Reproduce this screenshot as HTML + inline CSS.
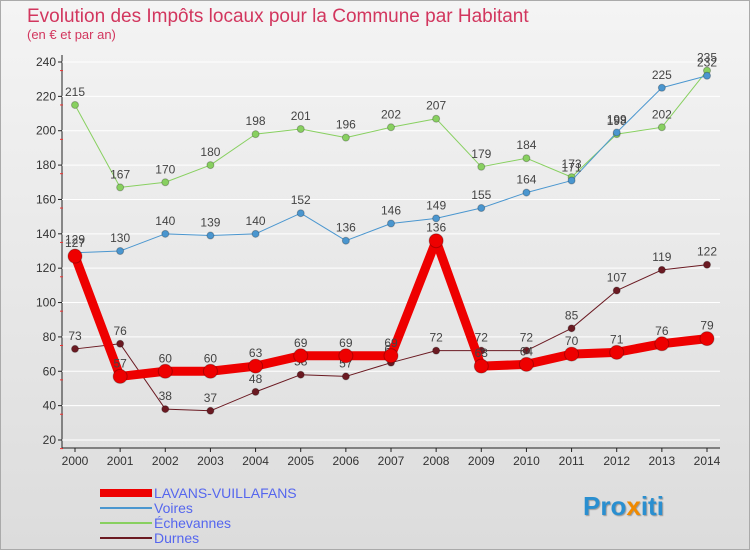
<!DOCTYPE html>
<html><head><meta charset="utf-8"><style>
body{margin:0;background:#fff}
svg{font-family:"Liberation Sans",sans-serif}
</style></head><body>
<svg id="c" width="750" height="550">
<defs><linearGradient id="bg" x1="0" y1="0" x2="0" y2="1"><stop offset="0" stop-color="#f4f4f4"/><stop offset="1" stop-color="#dcdcdc"/></linearGradient></defs>
<rect x="0.5" y="0.5" width="749" height="549" fill="url(#bg)" stroke="#aaa"/>
<text x="27" y="22" font-size="19" fill="#d2365e">Evolution des Impôts locaux pour la Commune par Habitant</text>
<text x="27" y="39" font-size="13" fill="#d2365e">(en € et par an)</text>
<g id="axes"></g><g id="series"></g><g id="legend"></g>
<text x="583" y="515" font-size="26" font-weight="bold" fill="#2a8fd0" style="text-shadow:1px 1px 1px #999">Pro<tspan fill="#f08a00">x</tspan>iti</text>
</svg>
<script>
const years=[2000,2001,2002,2003,2004,2005,2006,2007,2008,2009,2010,2011,2012,2013,2014];
const yTicks=[20,40,60,80,100,120,140,160,180,200,220,240];
const lavans=[127,57,60,60,63,69,69,69,136,63,64,70,71,76,79];
const voires=[129,130,140,139,140,152,136,146,149,155,164,171,199,225,232];
const eche=[215,167,170,180,198,201,196,202,207,179,184,173,198,202,235];
const durnes=[73,76,38,37,48,58,57,65,72,72,72,85,107,119,122];
const NS='http://www.w3.org/2000/svg';
const X=i=>75+i*(707-75)/(years.length-1);
const Y=v=>440-(v-20)*(378/220);
function mk(t,a,p){const e=document.createElementNS(NS,t);for(const k in a)e.setAttribute(k,a[k]);p.appendChild(e);return e;}
const ax=document.getElementById('axes');
mk('line',{x1:62,y1:55,x2:62,y2:448,stroke:'#222'},ax);
mk('line',{x1:62,y1:448,x2:720,y2:448,stroke:'#222'},ax);
yTicks.forEach(v=>{
  const y=Y(v);
  const l=mk('line',{x1:62,y1:y,x2:720,y2:y,stroke:'#fff','stroke-width':1},ax);
  
  
  mk('line',{x1:58,y1:y,x2:62,y2:y,stroke:'#222'},ax);
  mk('line',{x1:60,y1:y+8.6,x2:63,y2:y+8.6,stroke:'#e33'},ax);
  const t=mk('text',{x:56,y:y+4,'font-size':12,fill:'#333','text-anchor':'end'},ax);
  t.textContent=v;
  
  
});
years.forEach((yr,i)=>{
  const x=X(i);
  mk('line',{x1:x,y1:448,x2:x,y2:452,stroke:'#222'},ax);
  const t=mk('text',{x:x,y:465,'font-size':12,fill:'#333','text-anchor':'middle'},ax);
  t.textContent=yr;
  
  
});
const sg=document.getElementById('series');
function series(vals,color,w,r,name){
  const g=mk('g',{},sg);
  
  
  mk('polyline',{points:vals.map((v,i)=>X(i)+','+Y(v)).join(' '),fill:'none',stroke:color,'stroke-width':w,'stroke-linejoin':'round'},g);
  vals.forEach((v,i)=>{
    const c=mk('circle',{cx:X(i),cy:Y(v),r:r,fill:color,stroke:'rgba(0,0,0,0.25)'},g);
    
    
    const t=mk('text',{x:X(i),y:Y(v)-9,'font-size':12,fill:'#444','text-anchor':'middle'},g);
    t.textContent=v;
    
    
  });
}
series(durnes,'#6b1a22',1,3.5,'durnes-series');
series(eche,'#88d060',1,3.5,'echevannes-series');
series(voires,'#4a96cf',1,3.5,'voires-series');
series(lavans,'#ee0000',9,7,'lavans-series');
const lg=document.getElementById('legend');
const items=[['LAVANS-VUILLAFANS','#ee0000',8],['Voires','#4a96cf',2],['Échevannes','#88d060',2],['Durnes','#6b1a22',2]];
items.forEach((it,k)=>{
  const y=493+k*15;
  const g=mk('g',{},lg);
  
  
  mk('line',{x1:100,y1:y,x2:152,y2:y,stroke:it[1],'stroke-width':it[2]},g);
  const t=mk('text',{x:154,y:y+5,'font-size':14,fill:'#5566ee'},g);
  t.textContent=it[0];
});
</script>
</body></html>
